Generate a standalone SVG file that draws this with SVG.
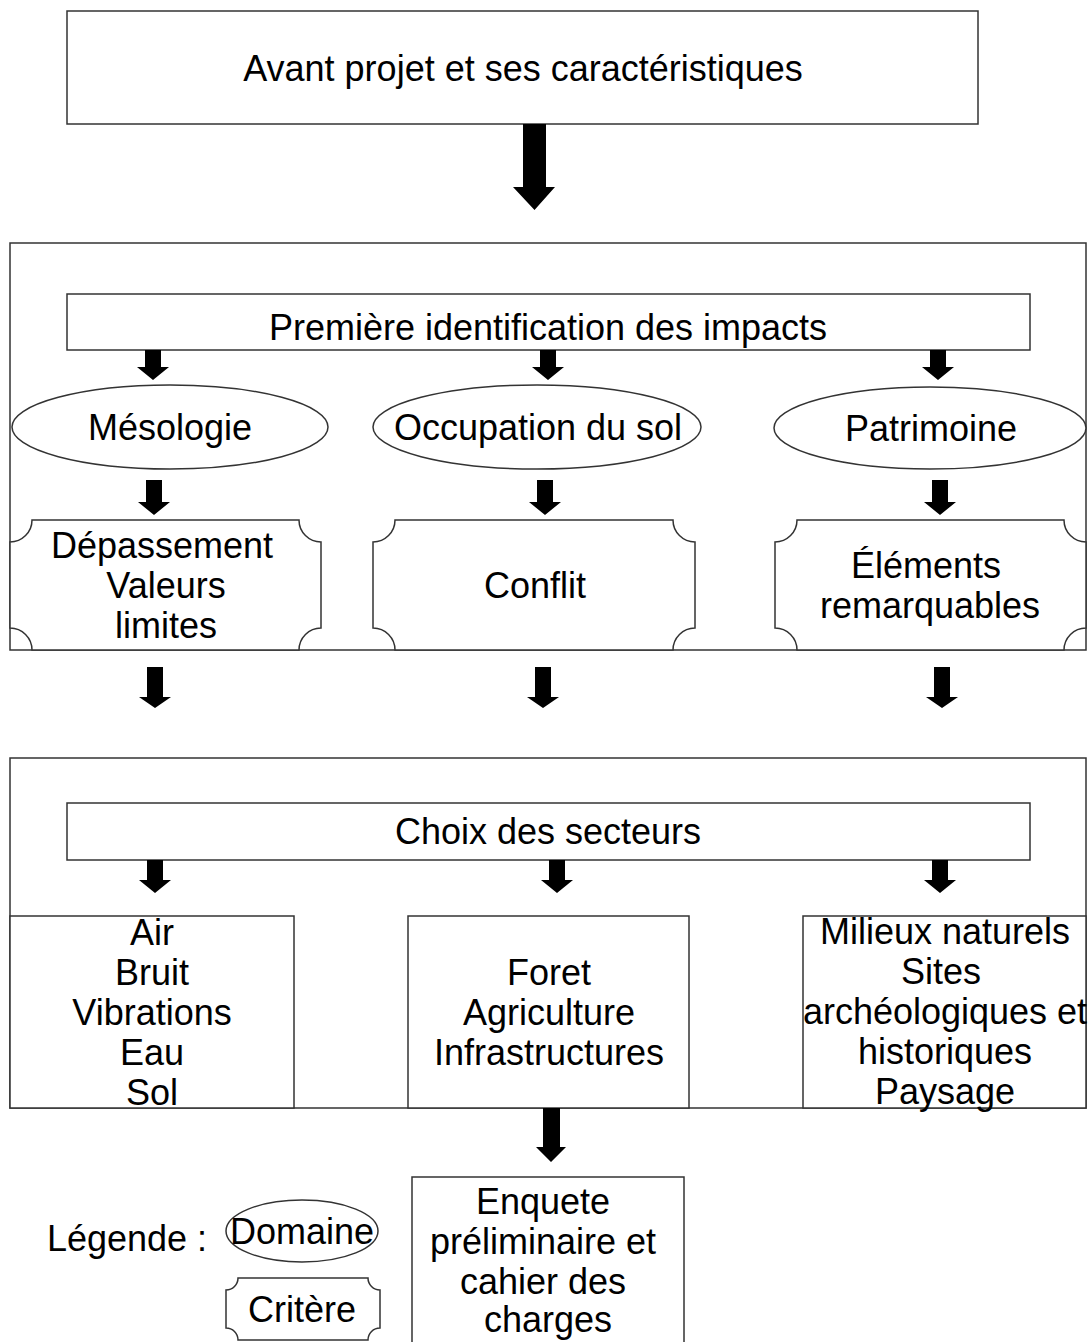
<svg xmlns="http://www.w3.org/2000/svg" width="1090" height="1342" viewBox="0 0 1090 1342">
<style>
.b{fill:#fff;stroke:#333;stroke-width:1.5}
.n{fill:none;stroke:#333;stroke-width:1.5}
.t{font-family:"Liberation Sans",Arial,sans-serif;font-size:36px;fill:#000;text-anchor:middle}
.a{fill:#000;stroke:none}
</style>
<rect width="1090" height="1342" fill="#fff"/>
<g id="containers">
<rect class="b" x="10" y="243" width="1076" height="407"/>
<rect class="b" x="10" y="758" width="1076" height="350"/>
</g>
<g id="avant"><rect class="b" x="67" y="11" width="911" height="113"/><text class="t" x="523" y="81">Avant projet et ses caractéristiques</text></g>
<g id="premiere"><rect class="b" x="67" y="294" width="963" height="56"/><text class="t" x="548" y="340">Première identification des impacts</text></g>
<g id="mesologie"><ellipse class="b" cx="170" cy="427" rx="158" ry="42"/><text class="t" x="170" y="440">Mésologie</text></g>
<g id="occupation"><ellipse class="b" cx="537" cy="427" rx="164" ry="42"/><text class="t" x="538" y="440">Occupation du sol</text></g>
<g id="patrimoine"><ellipse class="b" cx="930" cy="428" rx="156" ry="41"/><text class="t" x="931" y="441">Patrimoine</text></g>
<g id="depassement"><path class="b" d="M32,520 H299 A22,22 0 0 0 321,542 V628 A22,22 0 0 0 299,650 H32 A22,22 0 0 0 10,628 V542 A22,22 0 0 0 32,520 Z"/><text class="t" x="162" y="558">Dépassement</text><text class="t" x="166" y="598">Valeurs</text><text class="t" x="166" y="638">limites</text></g>
<g id="conflit"><path class="b" d="M395,520 H673 A22,22 0 0 0 695,542 V628 A22,22 0 0 0 673,650 H395 A22,22 0 0 0 373,628 V542 A22,22 0 0 0 395,520 Z"/><text class="t" x="535" y="598">Conflit</text></g>
<g id="elements"><path class="b" d="M797,520 H1064 A22,22 0 0 0 1086,542 V628 A22,22 0 0 0 1064,650 H797 A22,22 0 0 0 775,628 V542 A22,22 0 0 0 797,520 Z"/><text class="t" x="926" y="578">Éléments</text><text class="t" x="930" y="618">remarquables</text></g>
<g id="choix"><rect class="b" x="67" y="803" width="963" height="57"/><text class="t" x="548" y="844">Choix des secteurs</text></g>
<g id="air"><rect class="b" x="10" y="916" width="284" height="192"/><text class="t" x="152" y="945">Air</text><text class="t" x="152" y="985">Bruit</text><text class="t" x="152" y="1025">Vibrations</text><text class="t" x="152" y="1065">Eau</text><text class="t" x="152" y="1105">Sol</text></g>
<g id="foret"><rect class="b" x="408" y="916" width="281" height="192"/><text class="t" x="549" y="985">Foret</text><text class="t" x="549" y="1025">Agriculture</text><text class="t" x="549" y="1065">Infrastructures</text></g>
<g id="milieux"><rect class="b" x="803" y="916" width="283" height="192"/><text class="t" x="945" y="944">Milieux naturels</text><text class="t" x="941" y="984">Sites</text><text class="t" x="945" y="1024">archéologiques et</text><text class="t" x="945" y="1064">historiques</text><text class="t" x="945" y="1104">Paysage</text></g>
<g id="enquete"><rect class="b" x="412" y="1177" width="272" height="180"/><text class="t" x="543" y="1214">Enquete</text><text class="t" x="543" y="1254">préliminaire et</text><text class="t" x="543" y="1294">cahier des</text><text class="t" x="548" y="1332">charges</text></g>
<g id="legende"><text class="t" x="127" y="1251">Légende :</text>
<ellipse class="b" cx="302" cy="1231" rx="76" ry="31"/><text class="t" x="302" y="1244">Domaine</text>
<path class="b" d="M238,1278 H368 A12,12 0 0 0 380,1290 V1328 A12,12 0 0 0 368,1340 H238 A12,12 0 0 0 226,1328 V1290 A12,12 0 0 0 238,1278 Z"/><text class="t" x="302" y="1322">Critère</text></g>
<g id="connectors">
<polygon class="a" points="523,124 546,124 546,187 555,187 534.5,210 513,187 523,187"/>
<polygon class="a" points="145,350 161,350 161,367 169,367 153,380 137,367 145,367"/>
<polygon class="a" points="540,350 556,350 556,367 564,367 548,380 532,367 540,367"/>
<polygon class="a" points="930,350 946,350 946,367 954,367 938,380 922,367 930,367"/>
<polygon class="a" points="146,480 162,480 162,502 170,502 154,515 138,502 146,502"/>
<polygon class="a" points="537,480 553,480 553,502 561,502 545,515 529,502 537,502"/>
<polygon class="a" points="932,480 948,480 948,502 956,502 940,515 924,502 932,502"/>
<polygon class="a" points="147,667 163,667 163,697 171,697 155,708 139,697 147,697"/>
<polygon class="a" points="535,667 551,667 551,697 559,697 543,708 527,697 535,697"/>
<polygon class="a" points="934,667 950,667 950,697 958,697 942,708 926,697 934,697"/>
<polygon class="a" points="147,860 163,860 163,880 171,880 155,893 139,880 147,880"/>
<polygon class="a" points="549,860 565,860 565,880 573,880 557,893 541,880 549,880"/>
<polygon class="a" points="932,860 948,860 948,880 956,880 940,893 924,880 932,880"/>
<polygon class="a" points="543,1108 560,1108 560,1147 566,1147 551,1162 536,1147 543,1147"/>
</g>
</svg>
